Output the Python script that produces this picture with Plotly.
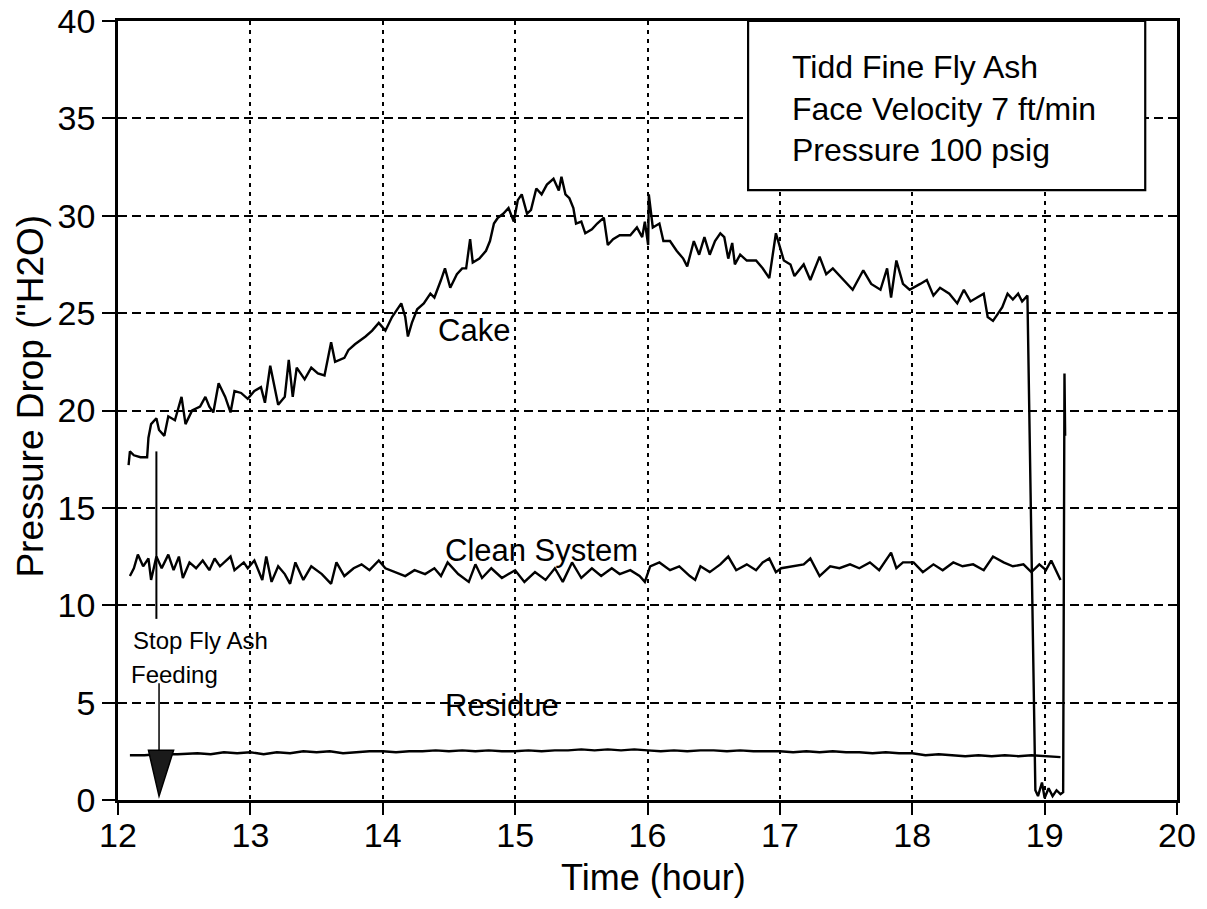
import plotly.graph_objects as go

# ---------------- data ----------------
cake_t = [12.08, 12.09, 12.12, 12.17, 12.22, 12.23, 12.25, 12.29, 12.31, 12.35, 12.38, 12.43, 12.48, 12.51,
          12.56, 12.62, 12.66, 12.69, 12.72, 12.76, 12.81, 12.85, 12.88, 12.93, 12.98, 13.03, 13.08, 13.11,
          13.15, 13.19, 13.21, 13.26, 13.29, 13.32, 13.35, 13.41, 13.46, 13.51, 13.56, 13.61, 13.64, 13.71,
          13.74, 13.79, 13.87, 13.92, 13.97, 14.02, 14.07, 14.14, 14.17, 14.19, 14.22, 14.26, 14.31, 14.36,
          14.39, 14.44, 14.47, 14.51, 14.56, 14.60, 14.63, 14.66, 14.68, 14.73, 14.78, 14.81, 14.84, 14.87,
          14.91, 14.95, 14.99, 15.02, 15.05, 15.09, 15.12, 15.16, 15.20, 15.24, 15.29, 15.33, 15.35, 15.38,
          15.41, 15.44, 15.46, 15.50, 15.53, 15.58, 15.62, 15.67, 15.70, 15.74, 15.79, 15.87, 15.92, 15.96,
          15.98, 16.005, 16.01, 16.04, 16.09, 16.12, 16.17, 16.22, 16.27, 16.30, 16.35, 16.39, 16.43, 16.47,
          16.51, 16.55, 16.58, 16.61, 16.64, 16.66, 16.70, 16.75, 16.82, 16.87, 16.92, 16.97, 17.00, 17.03,
          17.08, 17.11, 17.18, 17.23, 17.30, 17.35, 17.40, 17.48, 17.55, 17.63, 17.69, 17.76, 17.81, 17.84,
          17.88, 17.93, 17.98, 18.06, 18.11, 18.16, 18.21, 18.28, 18.34, 18.39, 18.44, 18.49, 18.54, 18.57,
          18.61, 18.64, 18.68, 18.72, 18.76, 18.80, 18.83, 18.87, 18.93, 18.95, 18.98, 19.00, 19.03, 19.06,
          19.09, 19.12, 19.14, 19.15, 19.155]
cake_v = [17.2, 17.9, 17.7, 17.6, 17.6, 18.6, 19.3, 19.6, 19.0, 18.7, 19.7, 19.5, 20.7, 19.3,
          20.0, 20.2, 20.7, 20.2, 19.9, 21.4, 20.7, 19.9, 21.0, 20.9, 20.6, 21.0, 21.2, 20.4,
          22.3, 21.0, 20.3, 20.7, 22.6, 20.7, 22.2, 21.6, 22.2, 21.9, 21.8, 23.5, 22.5, 22.7,
          23.1, 23.4, 23.8, 24.1, 24.5, 24.1, 24.8, 25.5, 24.8, 23.8, 24.5, 25.2, 25.5, 26.0,
          25.8, 26.7, 27.3, 26.3, 27.0, 27.3, 27.3, 28.8, 27.6, 27.8, 28.2, 28.7, 29.6, 29.9,
          30.1, 30.4, 29.7, 30.8, 31.1, 30.1, 30.3, 31.4, 31.1, 31.6, 31.9, 31.3, 32.0, 31.1,
          30.9, 30.4, 29.6, 29.7, 29.1, 29.3, 29.6, 29.9, 28.5, 28.8, 29.0, 29.0, 29.4, 28.9,
          29.7, 28.5, 31.1, 29.4, 29.6, 28.7, 28.7, 28.2, 27.8, 27.4, 28.7, 28.0, 28.9, 28.0,
          28.7, 29.1, 28.9, 27.8, 28.6, 27.5, 28.0, 27.7, 27.7, 27.3, 26.8, 29.1, 28.4, 27.7,
          27.5, 26.9, 27.5, 26.7, 27.9, 27.0, 27.3, 26.7, 26.2, 27.2, 26.5, 26.2, 27.3, 25.8,
          27.7, 26.5, 26.2, 26.5, 26.7, 25.9, 26.3, 26.0, 25.5, 26.2, 25.6, 25.8, 26.0, 24.8,
          24.6, 24.9, 25.3, 26.0, 25.7, 26.0, 25.6, 25.9, 0.5, 0.2, 0.9, 0.1, 0.6, 0.2,
          0.5, 0.3, 0.4, 21.9, 18.7]

clean_t = [12.09, 12.12, 12.15, 12.19, 12.23, 12.25, 12.29, 12.33, 12.38, 12.42, 12.46, 12.49, 12.54, 12.59,
           12.64, 12.69, 12.73, 12.77, 12.85, 12.88, 12.95, 12.98, 13.03, 13.09, 13.12, 13.16, 13.21, 13.26,
           13.30, 13.34, 13.40, 13.46, 13.54, 13.61, 13.65, 13.71, 13.78, 13.84, 13.90, 13.97, 14.02, 14.09,
           14.17, 14.24, 14.32, 14.39, 14.44, 14.49, 14.57, 14.65, 14.70, 14.75, 14.82, 14.90, 15.00, 15.07,
           15.15, 15.23, 15.30, 15.36, 15.43, 15.50, 15.58, 15.65, 15.73, 15.79, 15.87, 15.94, 15.98, 16.02,
           16.09, 16.17, 16.24, 16.32, 16.36, 16.40, 16.47, 16.55, 16.61, 16.67, 16.75, 16.82, 16.87, 16.92,
           16.97, 17.01, 17.10, 17.18, 17.23, 17.30, 17.38, 17.45, 17.53, 17.60, 17.68, 17.75, 17.84, 17.88,
           17.93, 18.01, 18.08, 18.16, 18.23, 18.31, 18.38, 18.46, 18.54, 18.61, 18.69, 18.76, 18.84, 18.90,
           18.96, 19.01, 19.05, 19.10, 19.12]
clean_v = [11.5, 11.9, 12.6, 12.0, 12.4, 11.3, 12.5, 11.9, 12.6, 11.8, 12.5, 11.4, 12.2, 11.9,
           12.3, 11.8, 12.4, 12.0, 12.5, 11.8, 12.2, 11.9, 12.3, 11.3, 12.5, 11.2, 12.0, 11.6,
           11.1, 12.2, 11.3, 12.0, 11.6, 11.1, 12.2, 11.5, 11.9, 12.1, 11.8, 12.3, 11.9, 11.7,
           11.5, 11.8, 11.6, 11.9, 11.5, 12.2, 11.6, 11.2, 12.1, 11.4, 11.9, 11.4, 11.8, 11.2,
           11.7, 11.3, 11.9, 11.2, 12.2, 11.4, 11.9, 11.5, 11.9, 11.6, 11.8, 11.5, 11.2, 12.0,
           12.2, 11.8, 12.0, 11.5, 11.3, 12.0, 11.7, 12.1, 12.5, 11.8, 12.1, 11.8, 12.2, 12.4,
           11.7, 11.9, 12.0, 12.1, 12.4, 11.5, 12.0, 11.9, 12.1, 11.9, 12.2, 11.8, 12.7, 11.9,
           12.2, 12.2, 11.7, 12.1, 11.8, 12.2, 12.0, 12.1, 11.8, 12.5, 12.2, 12.0, 12.1, 11.7,
           12.1, 11.8, 12.3, 11.6, 11.3]

residue_t = [12.09, 12.2, 12.3, 12.45, 12.6, 12.7, 12.8, 12.9, 13.0, 13.1, 13.2, 13.3, 13.4, 13.5,
             13.6, 13.7, 13.8, 13.9, 14.0, 14.1, 14.2, 14.3, 14.4, 14.5, 14.6, 14.7, 14.8, 14.9,
             15.0, 15.1, 15.2, 15.3, 15.4, 15.5, 15.6, 15.7, 15.8, 15.9, 16.0, 16.1, 16.2, 16.3,
             16.4, 16.5, 16.6, 16.7, 16.8, 16.9, 17.0, 17.1, 17.2, 17.3, 17.4, 17.5, 17.6, 17.7,
             17.8, 17.9, 18.0, 18.1, 18.2, 18.3, 18.4, 18.5, 18.6, 18.7, 18.8, 18.9, 19.0, 19.1, 19.12]
residue_v = [2.3, 2.3, 2.35, 2.35, 2.4, 2.35, 2.45, 2.4, 2.45, 2.35, 2.45, 2.4, 2.5, 2.45,
             2.5, 2.4, 2.45, 2.5, 2.5, 2.45, 2.5, 2.5, 2.55, 2.5, 2.55, 2.5, 2.55, 2.5,
             2.5, 2.55, 2.5, 2.55, 2.55, 2.6, 2.55, 2.6, 2.55, 2.6, 2.55, 2.5, 2.55, 2.5,
             2.55, 2.55, 2.5, 2.55, 2.5, 2.5, 2.5, 2.45, 2.5, 2.45, 2.5, 2.45, 2.45, 2.4,
             2.45, 2.4, 2.4, 2.3, 2.35, 2.3, 2.25, 2.3, 2.25, 2.3, 2.25, 2.3, 2.25, 2.2, 2.2]

x_ticks = [12, 13, 14, 15, 16, 17, 18, 19, 20]
y_ticks = [0, 5, 10, 15, 20, 25, 30, 35, 40]

info_lines = ["Tidd Fine Fly Ash", "Face Velocity 7 ft/min", "Pressure 100 psig"]
x_title = "Time (hour)"
y_title = "Pressure Drop (\"H2O)"

FONT = "Arial, Liberation Sans, Helvetica, sans-serif"

fig = go.Figure()
line_style = dict(color="black", width=2.4)
fig.add_trace(go.Scatter(x=cake_t, y=cake_v, mode="lines", line=line_style, name="Cake", showlegend=False))
fig.add_trace(go.Scatter(x=clean_t, y=clean_v, mode="lines", line=line_style, name="Clean System", showlegend=False))
fig.add_trace(go.Scatter(x=residue_t, y=residue_v, mode="lines", line=line_style, name="Residue", showlegend=False))

# "Stop Fly Ash Feeding" marker lines and arrow head
fig.add_shape(type="line", x0=12.29, x1=12.29, y0=17.9, y1=9.3, xref="x", yref="y",
              line=dict(color="black", width=2))
fig.add_shape(type="line", x0=12.31, x1=12.31, y0=6.0, y1=2.5, xref="x", yref="y",
              line=dict(color="black", width=1.5))
fig.add_shape(type="path", path="M 12.23 2.55 L 12.42 2.55 L 12.31 0.2 Z", xref="x", yref="y",
              line=dict(color="black", width=1.5), fillcolor="#1a1a1a")

# info box
fig.add_shape(type="rect", xref="paper", yref="paper", x0=0.595, x1=0.970, y0=0.783, y1=1.0,
              line=dict(color="black", width=2.2), fillcolor="white", layer="above")
fig.add_annotation(xref="paper", yref="paper", x=0.635, y=0.888, xanchor="left", yanchor="middle",
                   text="<br>".join(info_lines), align="left", showarrow=False,
                   font=dict(family=FONT, size=32, color="black"))

labels = [("Cake", 14.69, 24.1, 31), ("Clean System", 15.2, 12.8, 31), ("Residue", 14.9, 4.87, 31)]
for txt, xv, yv, sz in labels:
    fig.add_annotation(x=xv, y=yv, text=txt, showarrow=False,
                       font=dict(family=FONT, size=sz, color="black"))
fig.add_annotation(x=12.1, y=8.2, text="Stop Fly Ash", showarrow=False, xanchor="left",
                   font=dict(family=FONT, size=24, color="black"))
fig.add_annotation(x=12.08, y=6.45, text="Feeding", showarrow=False, xanchor="left",
                   font=dict(family=FONT, size=24, color="black"))

# axis titles (plot area spans 118..1177 px horizontally, 21..800 px vertically)
fig.add_annotation(xref="paper", yref="paper", x=0.506, y=-0.10, text=x_title, showarrow=False,
                   xanchor="center", yanchor="middle", font=dict(family=FONT, size=36, color="black"))
fig.add_annotation(xref="paper", yref="paper", x=-0.083, y=0.518, text=y_title, showarrow=False,
                   textangle=-90, xanchor="center", yanchor="middle",
                   font=dict(family=FONT, size=37, color="black"))

axis_common = dict(showline=True, linecolor="black", linewidth=2.5, mirror=True,
                   ticks="outside", tickwidth=2.2, tickcolor="black", automargin=False,
                   ticklabeloverflow="allow",
                   showgrid=True, gridcolor="black", gridwidth=2.2, zeroline=False,
                   tickfont=dict(family=FONT, size=34, color="black"))

fig.update_xaxes(range=[12, 20], tickvals=x_ticks, griddash="4px,5px", ticklen=12,
                 ticklabelstandoff=-9, **axis_common)
fig.update_yaxes(range=[0, 40], tickvals=y_ticks, griddash="9px,5px", ticklen=13,
                 **axis_common)

fig.update_layout(width=1207, height=909, margin=dict(l=118, r=30, t=21, b=109),
                  plot_bgcolor="white", paper_bgcolor="white", showlegend=False)

# remove the default 8 px page margin so the figure fills the window exactly
fig.write_html("out.html", config={"displayModeBar": False},
               post_script="document.body.style.margin='0px';")
